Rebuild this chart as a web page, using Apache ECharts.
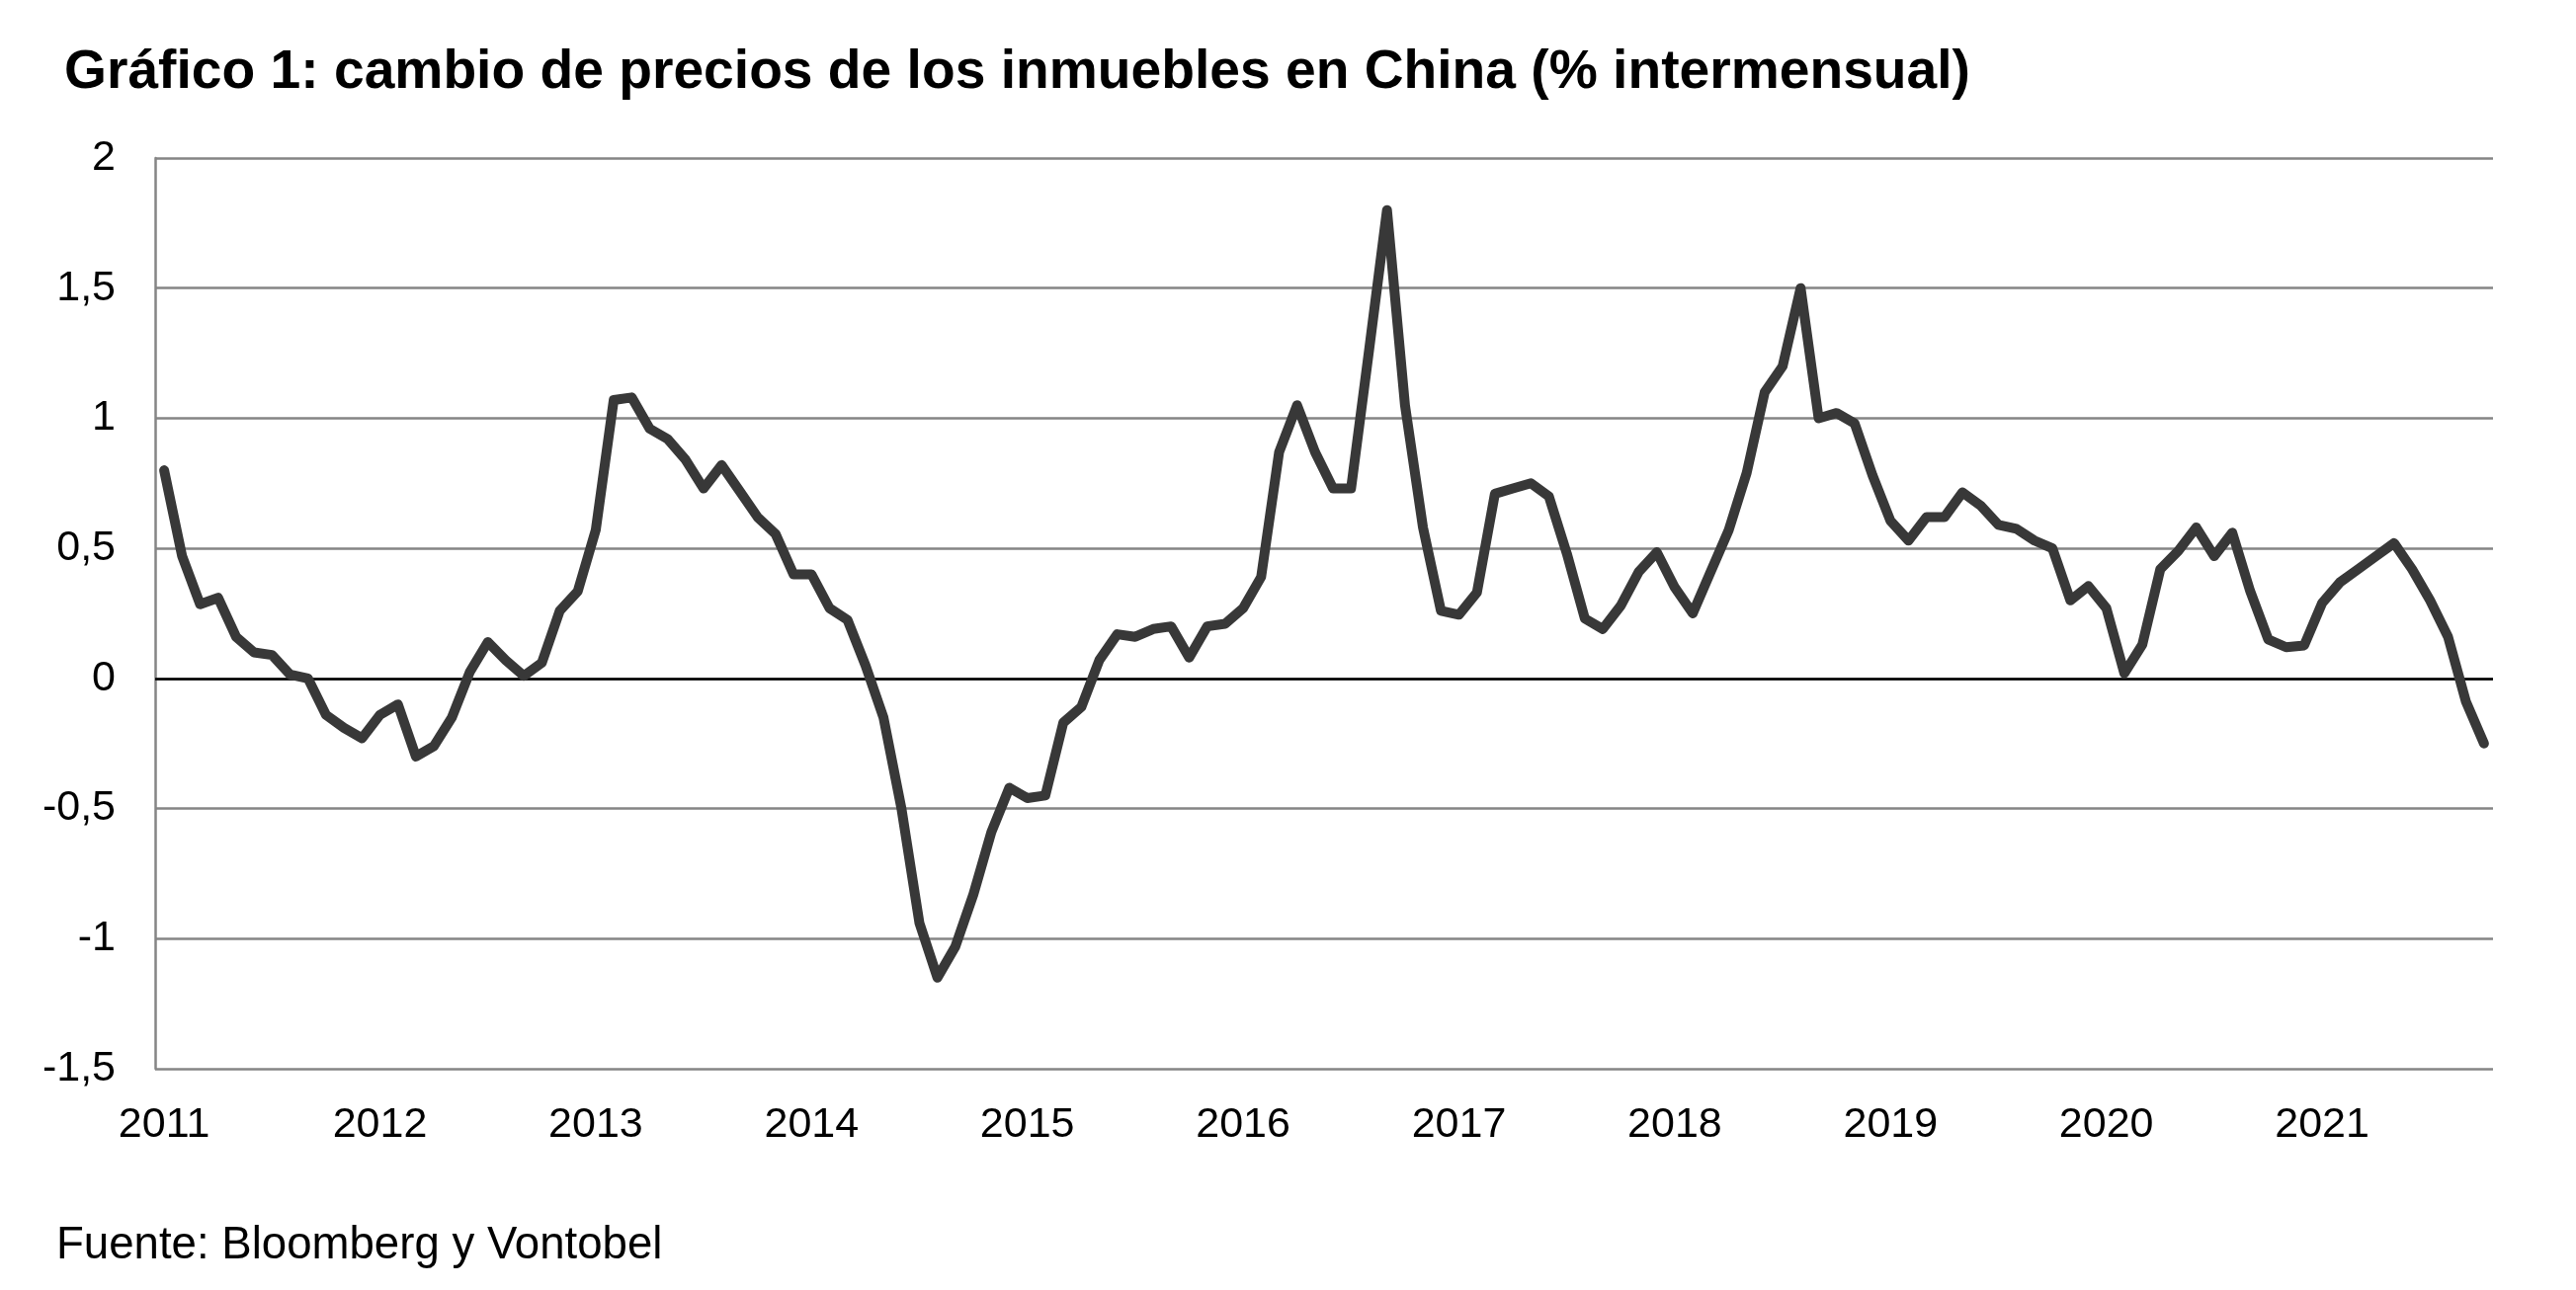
<!DOCTYPE html>
<html>
<head>
<meta charset="utf-8">
<script src="https://cdn.jsdelivr.net/npm/echarts@6/dist/echarts.min.js"></script>
<style>
  html, body { margin: 0; padding: 0; background: #ffffff; }
  #chart { width: 2607px; height: 1306px; }
</style>
</head>
<body>
<div id="chart"></div>
<script>
// Years shown on the axis (label at January of each year)
const years = ['2011','2012','2013','2014','2015','2016','2017','2018','2019','2020','2021'];

// Monthly price change (% m/m), one array per year
const v2011 = [0.80, 0.47, 0.285, 0.31, 0.16, 0.10, 0.09, 0.015, 0.00, -0.14, -0.19, -0.23];
const v2012 = [-0.14, -0.10, -0.30, -0.26, -0.15, 0.025, 0.14, 0.07, 0.01, 0.06, 0.26, 0.335];
const v2013 = [0.57, 1.07, 1.08, 0.96, 0.92, 0.84, 0.73, 0.82, 0.72, 0.62, 0.555, 0.40];
const v2014 = [0.40, 0.27, 0.225, 0.05, -0.15, -0.50, -0.94, -1.15, -1.03, -0.83, -0.59, -0.42];
const v2015 = [-0.46, -0.45, -0.17, -0.11, 0.07, 0.17, 0.16, 0.19, 0.20, 0.08, 0.20, 0.21];
const v2016 = [0.27, 0.39, 0.87, 1.05, 0.87, 0.73, 0.73, 1.26, 1.80, 1.05, 0.58, 0.26];
const v2017 = [0.245, 0.33, 0.71, 0.73, 0.75, 0.70, 0.48, 0.23, 0.19, 0.28, 0.41, 0.485];
const v2018 = [0.35, 0.25, 0.41, 0.57, 0.79, 1.10, 1.20, 1.50, 1.00, 1.02, 0.98, 0.78];
const v2019 = [0.605, 0.53, 0.62, 0.62, 0.715, 0.665, 0.59, 0.575, 0.53, 0.50, 0.30, 0.355];
const v2020 = [0.27, 0.02, 0.13, 0.42, 0.49, 0.58, 0.47, 0.56, 0.335, 0.15, 0.12, 0.127];
const v2021 = [0.29, 0.37, 0.42, 0.47, 0.52, 0.42, 0.30, 0.16, -0.09, -0.25];

const yearValues = [v2011, v2012, v2013, v2014, v2015, v2016, v2017, v2018, v2019, v2020, v2021];

// Y tick labels (Spanish decimal comma)
const yTicks = { '2': '2', '1.5': '1,5', '1': '1', '0.5': '0,5', '0': '0', '-0.5': '-0,5', '-1': '-1', '-1.5': '-1,5' };

const titleText = 'Gráfico 1: cambio de precios de los inmuebles en China (% intermensual)';
const sourceText = 'Fuente: Bloomberg y Vontobel';

// Build category list (year-month) and the series
const categories = [];
const values = [];
yearValues.forEach(function (arr, yi) {
  arr.forEach(function (v, m) {
    categories.push(years[yi] + '-' + String(m + 1).padStart(2, '0'));
    values.push(v);
  });
});

const FONT = '"Liberation Sans", Arial, Helvetica, sans-serif';
const chart = echarts.init(document.getElementById('chart'), null, { renderer: 'canvas' });

chart.setOption({
  backgroundColor: '#ffffff',
  animation: false,
  title: [
    {
      text: titleText,
      left: 65,
      top: 46,
      padding: 0,
      textStyle: { fontFamily: FONT, fontSize: 55.2, fontWeight: 'bold', color: '#000000' }
    },
    {
      text: sourceText,
      left: 57,
      top: 1238,
      padding: 0,
      textStyle: { fontFamily: FONT, fontSize: 45.6, fontWeight: 'normal', color: '#000000' }
    }
  ],
  grid: { left: 157, right: 84, top: 160, bottom: 224, containLabel: false },
  xAxis: {
    type: 'category',
    data: categories,
    boundaryGap: true,
    axisLine: { show: false },
    axisTick: { show: false },
    splitLine: { show: false },
    axisLabel: {
      interval: function (index) { return index % 12 === 0; },
      formatter: function (val) { return val.slice(0, 4); },
      margin: 36,
      fontFamily: FONT,
      fontSize: 43,
      color: '#000000'
    }
  },
  yAxis: {
    type: 'value',
    min: -1.5,
    max: 2,
    interval: 0.5,
    axisLine: { show: true, lineStyle: { color: '#858585', width: 2.5 } },
    axisTick: { show: false },
    splitLine: { show: true, lineStyle: { color: '#858585', width: 2.5 } },
    axisLabel: {
      margin: 40,
      fontFamily: FONT,
      fontSize: 43,
      color: '#000000',
      formatter: function (v) { return yTicks[String(v)] !== undefined ? yTicks[String(v)] : String(v); }
    }
  },
  series: [
    {
      type: 'line',
      data: values,
      symbol: 'none',
      smooth: false,
      lineStyle: { color: '#383838', width: 10, cap: 'round', join: 'round' },
      z: 5,
      markLine: {
        silent: true,
        symbol: 'none',
        label: { show: false },
        lineStyle: { color: '#000000', width: 2.5, type: 'solid' },
        data: [{ yAxis: 0 }],
        z: 3
      }
    }
  ]
});
</script>
</body>
</html>
